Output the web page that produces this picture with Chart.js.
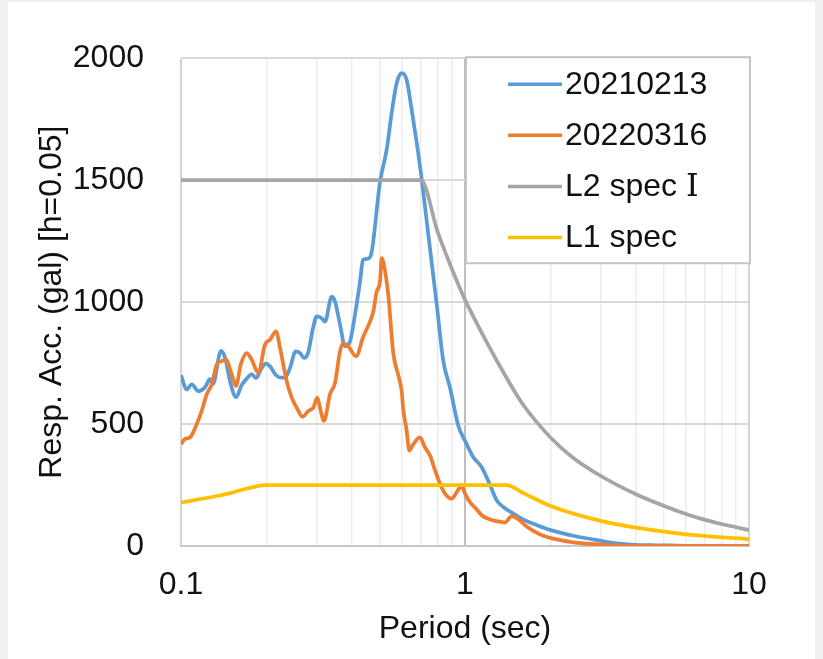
<!DOCTYPE html>
<html>
<head>
<meta charset="utf-8">
<script src="https://cdn.jsdelivr.net/npm/chart.js@4.4.1/dist/chart.umd.min.js"></script>
<style>
  html, body { margin: 0; padding: 0; background: #f0f0f0; }
  #wrap { position: absolute; left: 8px; top: 2px; width: 807px; height: 657px; background: #fff; }
</style>
</head>
<body>
<div id="wrap"><canvas id="spectrumChart" width="807" height="657"></canvas></div>
<script>
// response spectra (period in sec, acc in gal)
const seriesNames = ['20210213', '20220316', 'L2 spec \u2160', 'L1 spec'];

const periods0213 = [0.100, 0.1047, 0.1091, 0.1151, 0.1215, 0.1265, 0.1296, 0.1383, 0.1429, 0.1488,
  0.1562, 0.1636, 0.1721, 0.1774, 0.1837, 0.1924, 0.1992, 0.2070, 0.2161, 0.2263,
  0.2324, 0.2420, 0.2535, 0.2624, 0.2711, 0.2800, 0.2916, 0.3005, 0.3129, 0.3214,
  0.3393, 0.3486, 0.3630, 0.3781, 0.3936, 0.4100, 0.4269, 0.4374, 0.4555, 0.4693,
  0.5019, 0.5300, 0.5519, 0.5747, 0.5985, 0.6232, 0.6490, 0.6759, 0.7039, 0.7408,
  0.7952, 0.8387, 0.8857, 0.9471, 1.0, 1.070, 1.145, 1.225, 1.293, 1.364,
  1.480, 1.605, 1.788, 1.992, 2.160, 2.406, 2.988, 3.421, 4.132, 4.732, 6.0, 10];
const acc0213 = [700, 642, 663, 635, 651, 684, 664, 800, 772, 676,
  610, 660, 692, 705, 688, 730, 748, 733, 700, 690,
  690, 730, 798, 791, 771, 791, 893, 941, 934, 920,
  1022, 1002, 908, 819, 839, 949, 1083, 1173, 1178, 1206,
  1491, 1626, 1776, 1898, 1939, 1911, 1789, 1654, 1504, 1287,
  990, 758, 649, 493, 432, 364, 323, 250, 187, 160,
  133, 108, 86, 66, 55, 42, 22, 11, 4, 3, 1, 0];

const periods0316 = [0.100, 0.1033, 0.1076, 0.1136, 0.1183, 0.1232, 0.1283, 0.1336, 0.1391, 0.1440,
  0.1509, 0.1562, 0.1623, 0.1703, 0.1774, 0.1872, 0.1976, 0.2058, 0.2161, 0.2232,
  0.2356, 0.2454, 0.2555, 0.2682, 0.2807, 0.2923, 0.3019, 0.3086, 0.3188, 0.3347,
  0.3486, 0.3630, 0.3729, 0.3881, 0.4133, 0.4385, 0.4629, 0.4754, 0.4887, 0.5019,
  0.5089, 0.5155, 0.5369, 0.5591, 0.5822, 0.5985, 0.6062, 0.6232, 0.6365, 0.6576,
  0.6942, 0.7231, 0.7530, 0.7843, 0.8166, 0.8504, 0.8981, 0.9350, 0.9737, 1.0,
  1.041, 1.100, 1.145, 1.208, 1.275, 1.328, 1.383, 1.460, 1.541, 1.627,
  1.740, 1.887, 2.046, 2.406, 3.155, 3.710, 10];
const acc0316 = [418, 439, 445, 500, 554, 622, 663, 744, 758, 764,
  703, 656, 744, 791, 764, 710, 826, 846, 880, 812,
  676, 608, 567, 530, 554, 567, 608, 567, 513, 622,
  669, 798, 832, 819, 778, 859, 920, 961, 1043, 1083,
  1180, 1165, 1029, 790, 700, 635, 560, 472, 391, 418,
  445, 404, 371, 310, 255, 215, 194, 221, 245, 215,
  180, 150, 126, 112, 103, 100, 96, 123, 110, 85,
  62, 42, 30, 15, 5, 1, 0];

const periodsL2 = [0.1, 0.7, 0.8, 0.9, 1.0, 1.2, 1.4, 1.6, 2.0, 2.4, 3.0, 4.0, 5.0, 6.0, 7.0, 8.0, 10];
const accL2 = [1500, 1500, 1290, 1135, 1010, 830, 690, 580, 445, 362, 288, 212, 165, 131, 107, 90, 65];

const periodsL1 = [0.1, 0.1336, 0.1488, 0.2, 1.4, 1.6, 2.0, 3.0, 4.0, 6.0, 10];
const accL1 = [178, 205, 217, 250, 250, 218, 164, 103, 75, 48, 28];

const periodGrid = [0.1, 0.2, 0.3, 0.4, 0.5, 0.6, 0.7, 0.8, 0.9, 1, 2, 3, 4, 5, 6, 7, 8, 9, 10];
const periodLabels = [0.1, 1, 10];

const colors = ['#5B9BD5', '#ED7D31', '#A5A5A5', '#FFC000'];
const FONT = { family: "'Liberation Sans', Arial, 'DejaVu Serif', sans-serif", size: 32 };
const TEXT = '#111';

const toPoints = (xs, ys) => xs.map((x, i) => ({ x: x, y: ys[i] }));

const legendBox = {
  id: 'legendBox',
  afterDraw(chart) {
    const ctx = chart.ctx;
    const a = chart.chartArea;
    const bx = a.right - 283, by = a.top - 1;
    ctx.save();
    ctx.fillStyle = '#fff';
    ctx.fillRect(bx, by, 284, 206);
    ctx.strokeStyle = '#c4c4c4';
    ctx.lineWidth = 2;
    ctx.strokeRect(bx, by, 284, 206);
    ctx.font = FONT.size + 'px ' + FONT.family;
    ctx.textBaseline = 'middle';
    ctx.textAlign = 'left';
    chart.data.datasets.forEach((ds, i) => {
      const y = by + 27 + i * 51.1;
      ctx.strokeStyle = ds.borderColor;
      ctx.lineWidth = 3.5;
      ctx.beginPath();
      ctx.moveTo(bx + 42, y);
      ctx.lineTo(bx + 96, y);
      ctx.stroke();
      ctx.fillStyle = TEXT;
      ctx.fillText(ds.label, bx + 99, y + 1);
    });
    ctx.restore();
  }
};

const sets = [
  [periods0213, acc0213],
  [periods0316, acc0316],
  [periodsL2, accL2],
  [periodsL1, accL1]
];

new Chart(document.getElementById('spectrumChart'), {
  type: 'line',
  data: {
    datasets: sets.map((s, i) => ({
      label: seriesNames[i],
      data: toPoints(s[0], s[1]),
      borderColor: colors[i],
      backgroundColor: colors[i],
      borderWidth: 3.75,
      pointRadius: 0,
      cubicInterpolationMode: 'monotone',
      borderJoinStyle: 'round',
      order: 4 - i
    }))
  },
  options: {
    responsive: false,
    animation: false,
    devicePixelRatio: 1,
    layout: { padding: { top: 53, right: 66, bottom: 0, left: 0 } },
    plugins: { legend: { display: false }, tooltip: { enabled: false } },
    scales: {
      x: {
        type: 'logarithmic',
        min: 0.1,
        max: 10,
        afterBuildTicks: s => { s.ticks = periodGrid.map(v => ({ value: v })); },
        afterFit: s => { s.height = 113; },
        ticks: {
          autoSkip: false,
          maxRotation: 0,
          padding: 20,
          color: TEXT,
          font: FONT,
          callback: v => periodLabels.includes(v) ? String(v) : ''
        },
        grid: {
          drawTicks: false,
          color: c => c.tick && c.tick.value === 1 ? '#bfbfbf'
            : (c.tick && periodLabels.includes(c.tick.value) ? '#d4d4d4' : '#ececec'),
          lineWidth: c => c.tick && periodLabels.includes(c.tick.value) ? 2 : 1.5
        },
        border: { display: true, color: '#c8c8c8', width: 2 },
        title: { display: true, text: 'Period (sec)', color: TEXT, font: FONT, padding: { top: 0, bottom: 11 } }
      },
      y: {
        min: 0,
        max: 2000,
        afterFit: s => { s.width = 173; },
        ticks: { stepSize: 500, padding: 37, color: TEXT, font: FONT, callback: v => String(v) },
        grid: { drawTicks: false, color: '#d9d9d9', lineWidth: 2 },
        border: { display: false },
        title: { display: true, text: 'Resp. Acc. (gal) [h=0.05]', color: TEXT, font: FONT, padding: { top: 25, bottom: 0 } }
      }
    }
  },
  plugins: [legendBox]
});
</script>
</body>
</html>
